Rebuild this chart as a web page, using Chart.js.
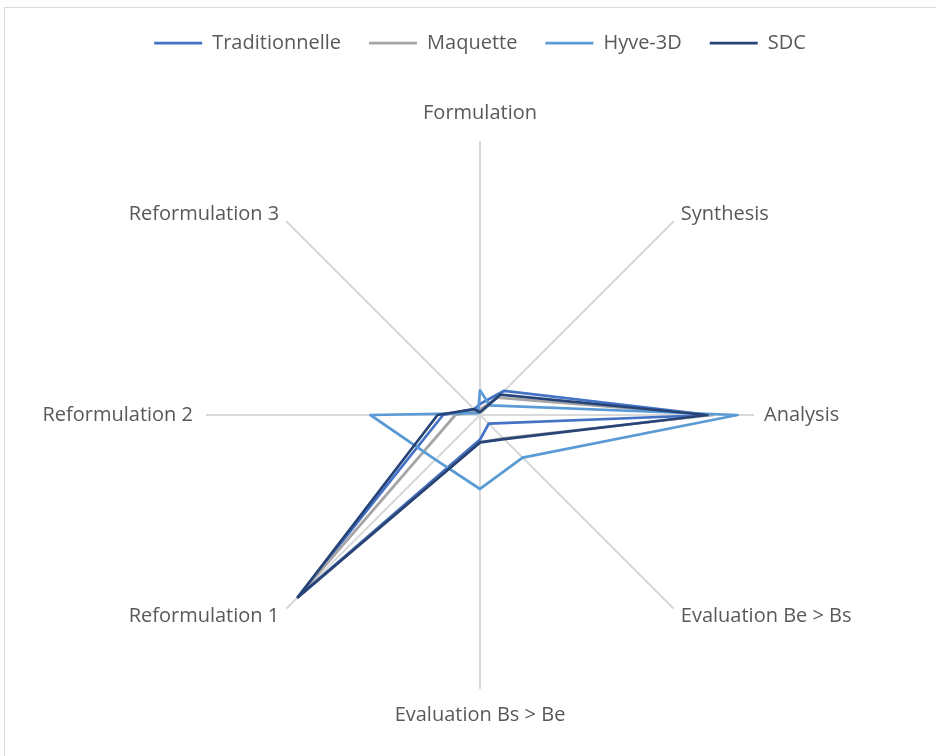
<!DOCTYPE html>
<html>
<head>
<meta charset="utf-8">
<script src="https://cdn.jsdelivr.net/npm/chart.js@4.4.1/dist/chart.umd.min.js"></script>
<style>
html, body { margin: 0; padding: 0; background: #fff; overflow: hidden; }
#frame { position: absolute; left: 4px; top: 7px; width: 1000px; height: 800px; border-left: 1px solid #d9d9d9; border-top: 1px solid #d9d9d9; }
#myChart { position: absolute; left: 0; top: 0; }
</style>
</head>
<body>
<div id="frame"></div>
<canvas id="myChart" width="936" height="756"></canvas>
<script>
// axes, clockwise from the top
var axes = ['Formulation', 'Synthesis', 'Analysis', 'Evaluation Be > Bs', 'Evaluation Bs > Be', 'Reformulation 1', 'Reformulation 2', 'Reformulation 3'];

var traditionnelle = [4, 12.5, 84, 4.5, 9, 94, 13.5, 3];
var maquette       = [2, 9, 85, 12, 10, 94, 9, 2];
var hyve3d         = [9, 5, 94, 22, 27, 23, 40, 1];
var sdc            = [1, 10.5, 83, 12.5, 10, 94, 15.5, 3];

// distance of each axis title from the end of its spoke
var labelGap = [28, 10, 10, 10, 26, 10, 13, 10];
var textFont = '"Open Sans", sans-serif';
var textColor = '#595959';

// draw the axis titles at the spoke ends
var axisTitles = {
    id: 'axisTitles',
    afterDraw: function(chart) {
        var scale = chart.scales.r;
        var ctx = chart.ctx;
        ctx.save();
        ctx.font = '20px ' + textFont;
        ctx.fillStyle = textColor;
        ctx.textBaseline = 'middle';
        for (var i = 0; i < axes.length; i++) {
            var p = scale.getPointPosition(i, scale.drawingArea + labelGap[i]);
            var dx = p.x - scale.xCenter;
            ctx.textAlign = Math.abs(dx) < 1 ? 'center' : (dx > 0 ? 'left' : 'right');
            ctx.fillText(axes[i], p.x, p.y);
        }
        ctx.restore();
    }
};

function serie(name, values, color, order) {
    return {
        label: name,
        data: values,
        borderColor: color,
        backgroundColor: color,
        borderWidth: 2.75,
        borderJoinStyle: 'round',
        fill: false,
        pointRadius: 0,
        pointHoverRadius: 0,
        order: order
    };
}

var ctx = document.getElementById('myChart').getContext('2d');
var chart = new Chart(ctx, {
    type: 'radar',
    data: {
        labels: axes,
        datasets: [
            serie('Traditionnelle', traditionnelle, '#4472C4', 3),
            serie('Maquette', maquette, '#A5A5A5', 2),
            serie('Hyve-3D', hyve3d, '#5B9BD5', 1),
            serie('SDC', sdc, '#264478', 0)
        ]
    },
    plugins: [axisTitles],
    options: {
        responsive: false,
        animation: false,
        layout: {
            padding: { left: 24, right: 0, top: 5, bottom: 0 }
        },
        plugins: {
            legend: {
                display: true,
                position: 'top',
                labels: {
                    usePointStyle: true,
                    pointStyle: 'line',
                    pointStyleWidth: 48,
                    padding: 28,
                    color: textColor,
                    font: { family: textFont, size: 20 },
                    sort: function(a, b) { return a.datasetIndex - b.datasetIndex; }
                }
            },
            tooltip: { enabled: false }
        },
        scales: {
            r: {
                min: 0,
                max: 100,
                ticks: { display: false },
                grid: { display: false },
                angleLines: { display: true, color: '#d9d9d9', lineWidth: 2 },
                pointLabels: { display: false },
                // place the radar like the original plot area
                afterFit: function(scale) {
                    scale.xCenter = 480;
                    scale.yCenter = 415;
                    scale.drawingArea = 274;
                }
            }
        }
    }
});
</script>
</body>
</html>
